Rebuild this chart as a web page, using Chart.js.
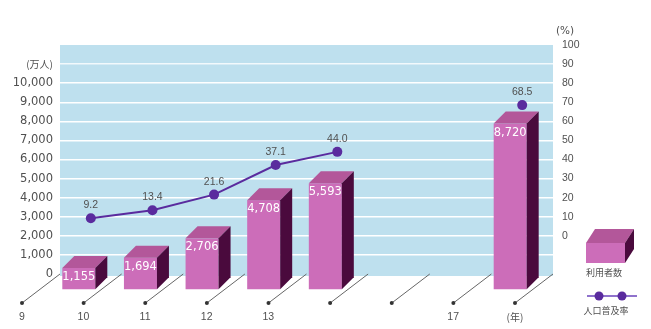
<!DOCTYPE html>
<html><head><meta charset="utf-8">
<script src="https://cdn.jsdelivr.net/npm/chart.js@4/dist/chart.umd.min.js"></script>
<style>html,body{margin:0;padding:0;background:#fff}#wrap{width:651px;height:329px}</style>
</head><body><div id="wrap"><canvas id="c" width="651" height="329"></canvas></div>
<script>
// ---- data ----
const years = ['9', '10', '11', '12', '13', '', '', '17'];
const users = [1155, 1694, 2706, 4708, 5593, null, null, 8720];   // 万人
const rate = [9.2, 13.4, 21.6, 37.1, 44.0, null, null, 68.5];      // %
const seriesNames = ['利用者数', '人口普及率'];
const userUnit = '(万人)';
const rateUnit = '(%)';
const yearUnit = '(年)';

// ---- style ----
const BLUE = '#BEE0EE', FRONT = '#CC6DB9', TOPC = '#B3579A', SIDE = '#4A0A3D';
const LINE = '#5A2B9E', LINE_LIGHT = '#8F72CC', TXT = '#505050';
const DX = -12, DY = 16, DEP_X = 12, DEP_Y = -12;     // 3D bar offsets
const FLOOR_DX = -38, FLOOR_DY = 29;                   // floor perspective
const SANS = '"DejaVu Sans", sans-serif';
const NARROW = '"Liberation Sans", sans-serif';
const JP = '"Noto Sans CJK JP", sans-serif';

function box(ctx, x0, x1, yt, yb, dx, dy) {
  ctx.fillStyle = FRONT;
  ctx.fillRect(x0, yt, x1 - x0, yb - yt);
  ctx.fillStyle = TOPC;
  ctx.beginPath();
  ctx.moveTo(x0, yt); ctx.lineTo(x0 + dx, yt + dy); ctx.lineTo(x1 + dx, yt + dy); ctx.lineTo(x1, yt);
  ctx.closePath(); ctx.fill();
  ctx.fillStyle = SIDE;
  ctx.beginPath();
  ctx.moveTo(x1, yt); ctx.lineTo(x1 + dx, yt + dy); ctx.lineTo(x1 + dx, yb + dy); ctx.lineTo(x1, yb);
  ctx.closePath(); ctx.fill();
}

const deco = {
  id: 'deco',
  beforeDraw(chart) {
    const { ctx, chartArea: a } = chart;
    ctx.save();
    ctx.fillStyle = BLUE;
    ctx.fillRect(a.left, a.top, a.right - a.left, a.bottom - a.top + 2);
    ctx.restore();
  },
  beforeDatasetsDraw(chart) {
    const { ctx, chartArea: a, scales: { x } } = chart;
    const slot = x.getPixelForValue(1) - x.getPixelForValue(0);
    ctx.save();
    ctx.strokeStyle = '#666'; ctx.lineWidth = 1; ctx.fillStyle = '#333';
    for (let i = 0; i <= years.length; i++) {
      const xb = x.getPixelForValue(i) - slot / 2;
      ctx.beginPath();
      ctx.moveTo(xb, a.bottom);
      ctx.lineTo(xb + FLOOR_DX, a.bottom + FLOOR_DY);
      ctx.stroke();
      ctx.beginPath();
      ctx.arc(xb + FLOOR_DX, a.bottom + FLOOR_DY, 2, 0, Math.PI * 2);
      ctx.fill();
    }
    ctx.restore();
  },
  beforeDatasetDraw(chart, args) {
    if (args.meta.type !== 'bar') return;
    const ctx = chart.ctx;
    ctx.save();
    args.meta.data.forEach((el, i) => {
      if (users[i] == null) return;
      const p = el.getProps(['x', 'y', 'base', 'width'], true);
      const x0 = p.x - p.width / 2 + DX, x1 = p.x + p.width / 2 + DX;
      const yt = p.y + DY, yb = p.base + DY;
      box(ctx, x0, x1, yt, yb, DEP_X, DEP_Y);
      ctx.fillStyle = '#fff';
      ctx.font = '11.5px ' + SANS;
      ctx.textAlign = 'center'; ctx.textBaseline = 'middle';
      ctx.fillText(users[i].toLocaleString('en-US'), (x0 + x1) / 2, yt + 9);
    });
    ctx.restore();
    return false;
  },
  afterDatasetsDraw(chart) {
    const ctx = chart.ctx;
    const meta = chart.getDatasetMeta(0);
    ctx.save();
    ctx.fillStyle = TXT;
    ctx.font = '10.5px ' + NARROW;
    ctx.textAlign = 'center'; ctx.textBaseline = 'middle';
    meta.data.forEach((el, i) => {
      if (rate[i] == null) return;
      ctx.fillText(rate[i].toFixed(1), el.x, el.y - 13);
    });
    ctx.restore();
  },
  afterDraw(chart) {
    const { ctx, chartArea: a, scales: { x } } = chart;
    const slot = x.getPixelForValue(1) - x.getPixelForValue(0);
    ctx.save();
    ctx.fillStyle = TXT;
    ctx.textAlign = 'center'; ctx.textBaseline = 'middle';
    // unit labels
    ctx.font = '10.5px ' + SANS;
    ctx.fillText(rateUnit, a.right + 12, a.top - 14);
    ctx.font = '10px ' + JP;
    ctx.fillText(yearUnit, x.getPixelForValue(years.length) - slot / 2 + FLOOR_DX, a.bottom + 43);
    // legend
    box(ctx, 586, 625, 243, 263, 9, -14);
    ctx.fillStyle = TXT;
    ctx.font = '9px ' + JP;
    ctx.fillText(seriesNames[0], 604, 273);
    ctx.strokeStyle = LINE_LIGHT; ctx.lineWidth = 2;
    ctx.beginPath(); ctx.moveTo(587, 296); ctx.lineTo(637, 296); ctx.stroke();
    ctx.fillStyle = LINE;
    [599, 622].forEach(px => { ctx.beginPath(); ctx.arc(px, 296, 4.5, 0, Math.PI * 2); ctx.fill(); });
    ctx.fillStyle = TXT;
    ctx.fillText(seriesNames[1], 606, 311);
    ctx.restore();
  }
};

new Chart(document.getElementById('c'), {
  data: {
    labels: years,
    datasets: [
      { type: 'line', label: seriesNames[1], data: rate, yAxisID: 'yR',
        borderColor: LINE, backgroundColor: LINE, borderWidth: 2,
        pointRadius: 5, pointHoverRadius: 5, pointBorderWidth: 0,
        tension: 0, spanGaps: false, order: 1 },
      { type: 'bar', label: seriesNames[0], data: users, yAxisID: 'yL',
        backgroundColor: FRONT, barThickness: 33, order: 2 }
    ]
  },
  options: {
    responsive: false, animation: false, devicePixelRatio: 1,
    layout: { padding: { top: 45, left: 0, right: 0, bottom: 0 } },
    plugins: { legend: { display: false }, tooltip: { enabled: false } },
    scales: {
      x: {
        type: 'category', offset: true,
        grid: { display: false, drawTicks: false }, border: { display: false },
        ticks: { autoSkip: false, maxRotation: 0, labelOffset: -69, padding: 37,
                 color: TXT, font: { family: NARROW, size: 10.5 } },
        afterFit(s) { s.height = 55; }
      },
      yL: {
        type: 'linear', position: 'left', min: 0, max: 12000,
        ticks: {
          stepSize: 1000, autoSkip: false, padding: 7, color: TXT,
          font: (c) => (c.tick && c.tick.value === 11000) ? { family: JP, size: 10 } : { family: SANS, size: 11.5 },
          callback: (v) => v === 11000 ? userUnit : (v > 10000 ? '' : v.toLocaleString('en-US'))
        },
        grid: {
          drawTicks: false, lineWidth: 1.5,
          color: (c) => (c.tick && (c.tick.value === 12000 || c.tick.value === 0)) ? 'rgba(0,0,0,0)' : (c.tick && c.tick.value === 11000 ? 'rgba(255,255,255,0.8)' : '#ffffff'),
          dash: (c) => (c.tick && c.tick.value === 11000) ? [2, 3] : [],
          borderDash: (c) => (c.tick && c.tick.value === 11000) ? [2, 3] : []
        },
        border: { display: false },
        afterFit(s) { s.width = 60; }
      },
      yR: {
        type: 'linear', position: 'right', min: -20, max: 100,
        ticks: { stepSize: 10, autoSkip: false, padding: 9, color: TXT,
                 font: { family: NARROW, size: 10.5 },
                 callback: (v) => v < 0 ? '' : String(v) },
        grid: { display: false, drawTicks: false }, border: { display: false },
        afterFit(s) { s.width = 98; }
      }
    }
  },
  plugins: [deco]
});
</script>
</body></html>
